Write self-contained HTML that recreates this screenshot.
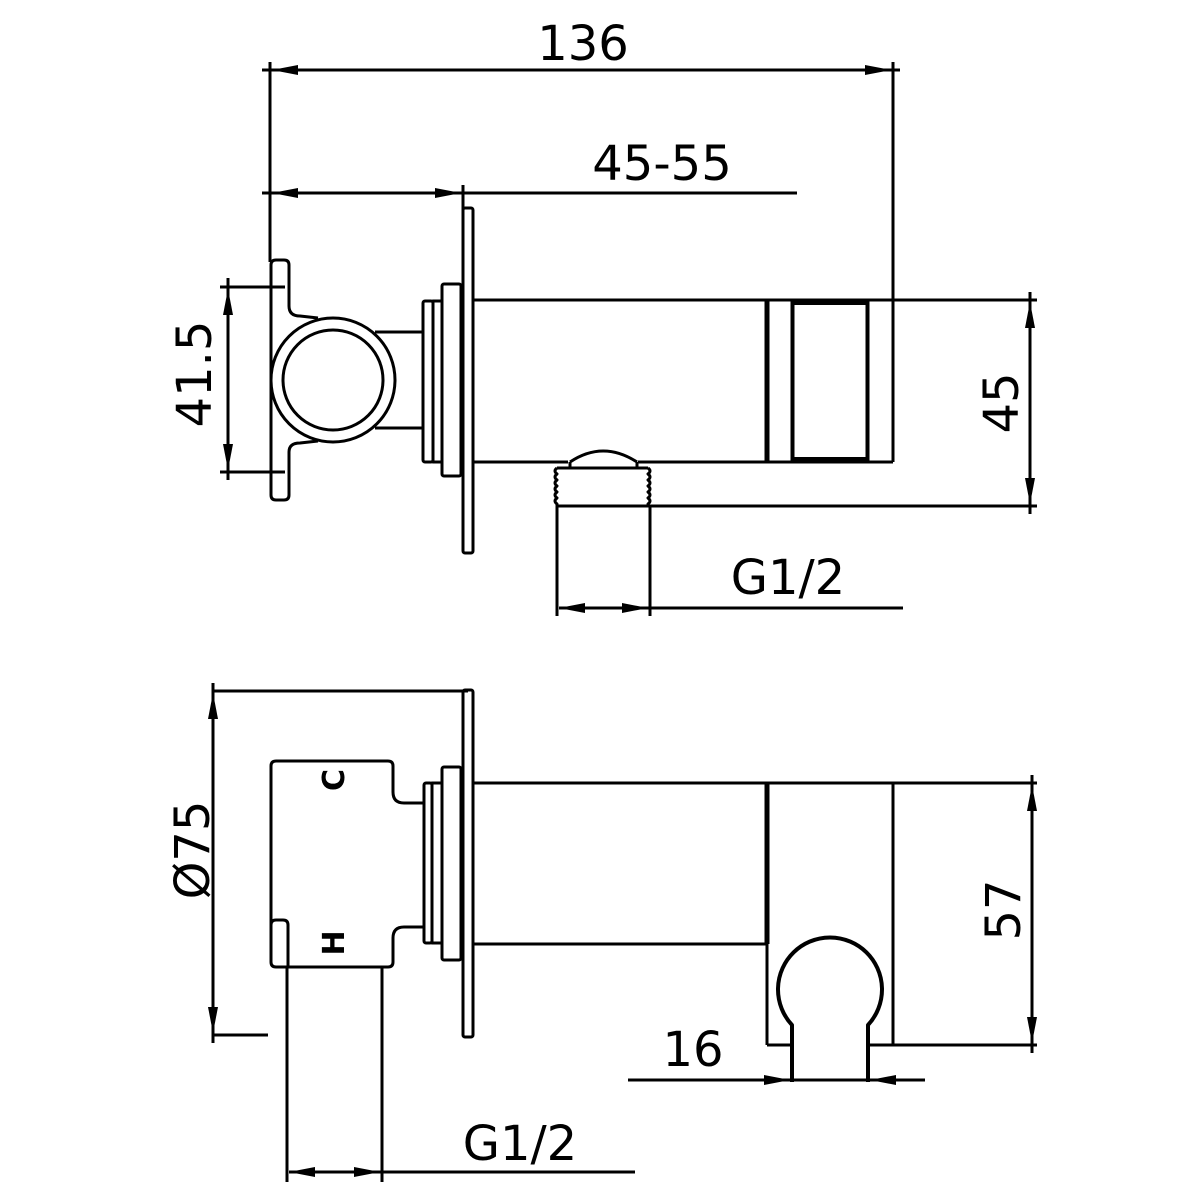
<!DOCTYPE html>
<html><head><meta charset="utf-8"><style>html,body{margin:0;padding:0;background:#fff}svg{display:block}</style></head>
<body>
<svg width="1200" height="1200" viewBox="0 0 1200 1200" xmlns="http://www.w3.org/2000/svg">
<defs>
<marker id="a" viewBox="0 0 26 10" refX="26" refY="5" markerWidth="26" markerHeight="10" markerUnits="userSpaceOnUse" orient="auto-start-reverse"><path d="M0,0 L26,5 L0,10 Z" fill="#000"/></marker>
</defs>
<g fill="none" stroke="#000" stroke-width="3" stroke-linejoin="round">
<!-- ===== TOP VIEW ===== -->
<line x1="270" y1="62" x2="270" y2="262"/>
<line x1="893" y1="62" x2="893" y2="300"/>
<line x1="272" y1="70" x2="891" y2="70" marker-start="url(#a)" marker-end="url(#a)"/>
<line x1="262" y1="70" x2="272" y2="70"/><line x1="891" y1="70" x2="900" y2="70"/>
<line x1="463" y1="185" x2="463" y2="270"/>
<line x1="272" y1="193" x2="461" y2="193" marker-start="url(#a)" marker-end="url(#a)"/>
<line x1="262" y1="193" x2="272" y2="193"/><line x1="461" y1="193" x2="797" y2="193"/>
<line x1="220" y1="287" x2="285" y2="287"/>
<line x1="220" y1="472" x2="285" y2="472"/>
<line x1="228" y1="289" x2="228" y2="470" marker-start="url(#a)" marker-end="url(#a)"/>
<line x1="228" y1="278" x2="228" y2="289"/><line x1="228" y1="470" x2="228" y2="480"/>
<path d="M271,265 Q271,260 276,260 L284,260 Q289,260 289,265 L289,306 Q289,316 300,316 L318,318"/>
<path d="M271,265 L271,495 Q271,500 276,500 L284,500 Q289,500 289,495 L289,452 Q289,443 300,443 L318,441"/>
<circle cx="333" cy="380" r="62"/>
<circle cx="333" cy="380" r="50"/>
<line x1="375" y1="332" x2="423" y2="332"/>
<line x1="375" y1="428" x2="423" y2="428"/>
<rect x="423" y="301" width="10" height="161" rx="2"/>
<rect x="433" y="301" width="9" height="161"/>
<rect x="442" y="284" width="19" height="192" rx="2"/>
<rect x="463" y="208" width="10" height="345" rx="2"/>
<line x1="473" y1="300" x2="1037" y2="300"/>
<line x1="473" y1="462" x2="568" y2="462"/>
<line x1="638" y1="462" x2="893" y2="462"/>
<line x1="893" y1="300" x2="893" y2="462"/>
<line x1="767" y1="300" x2="767" y2="462" stroke-width="5"/>
<line x1="792" y1="300" x2="792" y2="462"/>
<rect x="793" y="302" width="74" height="157" />
<line x1="793" y1="303" x2="867" y2="303" stroke-width="4"/>
<line x1="793" y1="459" x2="867" y2="459" stroke-width="4"/>
<line x1="868" y1="300" x2="868" y2="462"/>
<path d="M570,462 Q603,440 637,462"/>
<line x1="570" y1="462" x2="570" y2="468"/><line x1="637" y1="462" x2="637" y2="468"/>
<path d="M557,468 L648,468"/>
<path d="M557,468 q-4,3 0,6 q-4,3 0,6 q-4,3 0,6 q-4,3 0,6 q-4,3 0,6 q-4,3 0,6 L557,506"/>
<path d="M648,468 q4,3 0,6 q4,3 0,6 q4,3 0,6 q4,3 0,6 q4,3 0,6 q4,3 0,6 L648,506"/>
<line x1="557" y1="506" x2="1037" y2="506"/>
<line x1="557" y1="506" x2="557" y2="616"/>
<line x1="650" y1="506" x2="650" y2="616"/>
<line x1="1030" y1="302" x2="1030" y2="504" marker-start="url(#a)" marker-end="url(#a)"/>
<line x1="1030" y1="292" x2="1030" y2="302"/><line x1="1030" y1="504" x2="1030" y2="514"/>
<line x1="559" y1="608" x2="648" y2="608" marker-start="url(#a)" marker-end="url(#a)"/>
<line x1="648" y1="608" x2="903" y2="608"/>

<!-- ===== BOTTOM VIEW ===== -->
<line x1="213" y1="691" x2="468" y2="691"/>
<line x1="213" y1="1035" x2="268" y2="1035"/>
<line x1="213" y1="693" x2="213" y2="1033" marker-start="url(#a)" marker-end="url(#a)"/>
<line x1="213" y1="683" x2="213" y2="693"/><line x1="213" y1="1033" x2="213" y2="1043"/>
<path d="M276,761 L388,761 Q393,761 393,766 L393,792 Q393,803 404,803 L423,803"/>
<path d="M423,927 L404,927 Q393,927 393,938 L393,962 Q393,967 388,967 L276,967 Q271,967 271,962 L271,766 Q271,761 276,761"/>
<path d="M271,925 Q271,920 276,920 L283,920 Q288,920 288,925 L288,967"/>
<rect x="424" y="783" width="8" height="160" rx="2"/>
<rect x="432" y="783" width="10" height="160"/>
<rect x="442" y="767" width="19" height="193" rx="2"/>
<rect x="463" y="690" width="10" height="347" rx="2"/>
<line x1="473" y1="783" x2="1037" y2="783"/>
<line x1="473" y1="944" x2="767" y2="944"/>
<line x1="767" y1="783" x2="767" y2="944" stroke-width="5"/>
<line x1="767" y1="944" x2="767" y2="1045"/>
<line x1="893" y1="783" x2="893" y2="1045"/>
<line x1="767" y1="1045" x2="792" y2="1045"/>
<line x1="868" y1="1045" x2="1037" y2="1045"/>
<path d="M792,1082 L792,1025 A52,52 0 1 1 868,1025 L868,1082" stroke-width="4"/>
<line x1="1032" y1="785" x2="1032" y2="1043" marker-start="url(#a)" marker-end="url(#a)"/>
<line x1="1032" y1="775" x2="1032" y2="785"/><line x1="1032" y1="1043" x2="1032" y2="1053"/>
<line x1="628" y1="1080" x2="790" y2="1080" marker-end="url(#a)"/>
<line x1="925" y1="1080" x2="870" y2="1080" marker-end="url(#a)"/>
<line x1="792" y1="1080" x2="868" y2="1080"/>
<line x1="287" y1="967" x2="287" y2="1182"/>
<line x1="382" y1="967" x2="382" y2="1182"/>
<line x1="289" y1="1172" x2="380" y2="1172" marker-start="url(#a)" marker-end="url(#a)"/>
<line x1="380" y1="1172" x2="635" y2="1172"/>
</g>
<g font-family="DejaVu Sans, Liberation Sans, sans-serif" font-size="48" fill="#000">
<text x="583" y="60" text-anchor="middle">136</text>
<text x="662" y="180" text-anchor="middle">45-55</text>
<text x="788" y="594" text-anchor="middle">G1/2</text>
<text x="693" y="1066" text-anchor="middle">16</text>
<text x="520" y="1160" text-anchor="middle">G1/2</text>
<text transform="translate(211,374) rotate(-90)" text-anchor="middle">41.5</text>
<text transform="translate(1018,403) rotate(-90)" text-anchor="middle">45</text>
<text transform="translate(1020,910) rotate(-90)" text-anchor="middle">57</text>
<text transform="translate(209,850) rotate(-90)" text-anchor="middle">Ø75</text>
</g>
<g font-family="DejaVu Sans, Liberation Sans, sans-serif" font-size="30" font-weight="bold" fill="#000">
<text transform="translate(344,780) rotate(-90)" text-anchor="middle">C</text>
<text transform="translate(344,943) rotate(-90)" text-anchor="middle">H</text>
</g>
</svg>
</body></html>
